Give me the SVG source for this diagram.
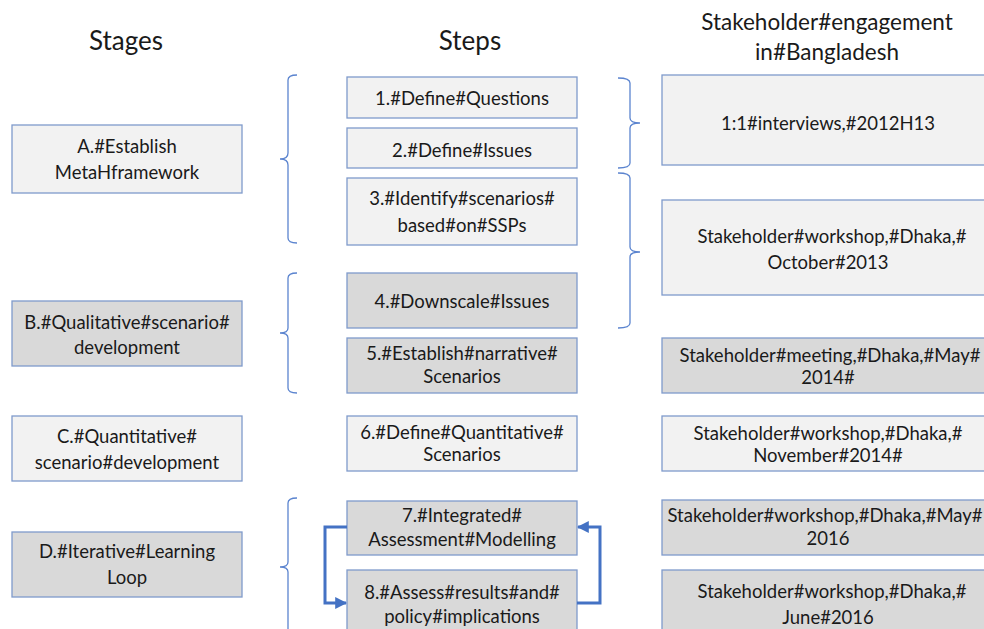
<svg xmlns="http://www.w3.org/2000/svg" width="984" height="629" viewBox="0 0 984 629">
<defs>
<style>
.t{font-family:Lato,"Liberation Sans",sans-serif;font-size:18.5px;fill:#1a1a1a;text-anchor:middle}
.h{font-family:Lato,"Liberation Sans",sans-serif;fill:#1a1a1a;text-anchor:middle}
.lt{fill:#f2f2f2;stroke:#7f9acb;stroke-width:1.3}
.dk{fill:#d9d9d9;stroke:#7f9acb;stroke-width:1.3}
.br{fill:none;stroke:#5b84cf;stroke-width:1.3}
.lp{fill:none;stroke:#4472c4;stroke-width:3}
</style>
<marker id="ah" viewBox="0 0 10 10" refX="9" refY="5" markerWidth="4" markerHeight="4" orient="auto" markerUnits="strokeWidth">
<path d="M0,0 L10,5 L0,10 z" fill="#4472c4"/>
</marker>
</defs>
<rect width="984" height="629" fill="#fff"/>

<g id="headers">
<text class="h" x="126" y="50" font-size="26">Stages</text>
<text class="h" x="470" y="50" font-size="26">Steps</text>
<text class="h" x="827" y="30" font-size="22.5">Stakeholder#engagement</text>
<text class="h" x="827" y="60" font-size="22.5">in#Bangladesh</text>
</g>

<g id="stageA"><rect class="lt" x="12" y="125" width="230" height="68"/>
<text class="t" x="127" y="153">A.#Establish</text><text class="t" x="127" y="179">MetaHframework</text></g>
<g id="stageB"><rect class="dk" x="12" y="301" width="230" height="65"/>
<text class="t" x="127" y="329">B.#Qualitative#scenario#</text><text class="t" x="127" y="354">development</text></g>
<g id="stageC"><rect class="lt" x="12" y="416" width="230" height="65"/>
<text class="t" x="127" y="443">C.#Quantitative#</text><text class="t" x="127" y="469">scenario#development</text></g>
<g id="stageD"><rect class="dk" x="12" y="532" width="230" height="65"/>
<text class="t" x="127" y="558">D.#Iterative#Learning</text><text class="t" x="127" y="584">Loop</text></g>

<g id="step1"><rect class="lt" x="347" y="77" width="230" height="41"/>
<text class="t" x="462" y="105">1.#Define#Questions</text></g>
<g id="step2"><rect class="lt" x="347" y="128" width="230" height="40"/>
<text class="t" x="462" y="157">2.#Define#Issues</text></g>
<g id="step3"><rect class="lt" x="347" y="178" width="230" height="67"/>
<text class="t" x="462" y="205">3.#Identify#scenarios#</text><text class="t" x="462" y="232">based#on#SSPs</text></g>
<g id="step4"><rect class="dk" x="347" y="273" width="230" height="55"/>
<text class="t" x="462" y="308">4.#Downscale#Issues</text></g>
<g id="step5"><rect class="dk" x="347" y="338" width="230" height="55"/>
<text class="t" x="462" y="360">5.#Establish#narrative#</text><text class="t" x="462" y="383">Scenarios</text></g>
<g id="step6"><rect class="lt" x="347" y="416" width="230" height="55"/>
<text class="t" x="462" y="439">6.#Define#Quantitative#</text><text class="t" x="462" y="461">Scenarios</text></g>
<g id="step7"><rect class="dk" x="347" y="501" width="230" height="54"/>
<text class="t" x="462" y="522">7.#Integrated#</text><text class="t" x="462" y="546">Assessment#Modelling</text></g>
<g id="step8"><rect class="dk" x="347" y="570" width="230" height="70"/>
<text class="t" x="462" y="599">8.#Assess#results#and#</text><text class="t" x="462" y="623">policy#implications</text></g>

<g id="eng1"><rect class="lt" x="662" y="75" width="340" height="90"/>
<text class="t" x="828" y="130">1:1#interviews,#2012H13</text></g>
<g id="eng2"><rect class="lt" x="662" y="200" width="340" height="95"/>
<text class="t" x="832" y="243">Stakeholder#workshop,#Dhaka,#</text><text class="t" x="828" y="269">October#2013</text></g>
<g id="eng3"><rect class="dk" x="662" y="338" width="340" height="55"/>
<text class="t" x="830" y="362">Stakeholder#meeting,#Dhaka,#May#</text><text class="t" x="828" y="384">2014#</text></g>
<g id="eng4"><rect class="lt" x="662" y="416" width="340" height="55"/>
<text class="t" x="828" y="440">Stakeholder#workshop,#Dhaka,#</text><text class="t" x="828" y="462">November#2014#</text></g>
<g id="eng5"><rect class="dk" x="662" y="500" width="340" height="55"/>
<text class="t" x="825" y="522">Stakeholder#workshop,#Dhaka,#May#</text><text class="t" x="828" y="545">2016</text></g>
<g id="eng6"><rect class="dk" x="662" y="570" width="340" height="70"/>
<text class="t" x="832" y="598">Stakeholder#workshop,#Dhaka,#</text><text class="t" x="828" y="624">June#2016</text></g>

<g id="connectors">
<path class="br" d="M297,75 Q288,75 288,80 L288,153 Q288,159 280,159 Q288,159 288,165 L288,238 Q288,243 297,243"/>
<path class="br" d="M297,273 Q288,273 288,278 L288,328 Q288,333 280,333 Q288,333 288,338 L288,388 Q288,393 297,393"/>
<path class="br" d="M297,498 Q288,498 288,503 L288,562 Q288,567 280,567 Q288,567 288,572 L288,640"/>
<path class="br" d="M618,78 Q630,78 630,83 L630,118 Q630,123 640,123 Q630,123 630,128 L630,163 Q630,168 618,168"/>
<path class="br" d="M618,173 Q630,173 630,178 L630,247 Q630,252 640,252 Q630,252 630,257 L630,323 Q630,328 618,328"/>
<path class="lp" d="M347,527 L325,527 L325,603 L346,603" marker-end="url(#ah)"/>
<path class="lp" d="M577,603 L600,603 L600,527 L578,527" marker-end="url(#ah)"/>
</g>
</svg>
